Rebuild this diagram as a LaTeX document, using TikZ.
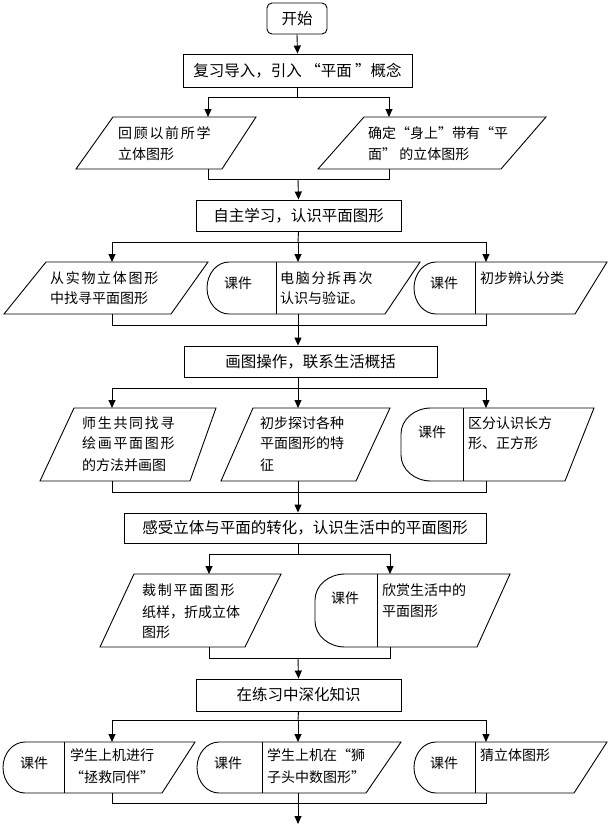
\documentclass[tikz,border=0pt]{standalone}
\usepackage{fontspec}
\setmainfont{Noto Sans CJK SC}
\usetikzlibrary{arrows.meta}
\tikzset{
  line/.style={draw=black, line width=0.9pt},
  arr/.style={line, -{Triangle[length=8pt,width=7pt]}},
  procbox/.style={line, rectangle, inner sep=0pt, font=\fontsize{15.5}{18}\selectfont},
  startbox/.style={procbox, rounded corners=5pt},
  txt/.style={anchor=base west, inner sep=0pt, font=\fontsize{14}{18}\selectfont},
  sp/.style={font=\fontsize{14}{18}\selectfont\addfontfeature{LetterSpace=12}},
  kj/.style={anchor=center, inner sep=0pt, font=\fontsize{14}{18}\selectfont},
}
% D-shaped courseware box: left x, divider x, top-right x, bottom-right x, top y, bottom y, x radius, y radius
\newcommand\kjshape[8]{%
  \draw[line] (#2,#5) -- (#3,#5) -- (#4,#6) -- ({#1+#7},#6)
    arc[start angle=270,end angle=180,x radius=#7pt,y radius=#8pt]
    -- (#1,{#5+#8})
    arc[start angle=180,end angle=90,x radius=#7pt,y radius=#8pt] -- cycle;
  \draw[line] (#2,#5) -- (#2,#6);}
\begin{document}
\begin{tikzpicture}[x=1pt,y=-1pt]
\useasboundingbox (0,0) rectangle (608,827);
\fill[white] (0,0) rectangle (608,827);

% ---------- start and first box
\node[startbox, minimum width=60pt, minimum height=31pt] (start) at (297,18.5) {开始};
\node[procbox, minimum width=229pt, minimum height=33pt] (b1) at (297.5,70.5) {复习导入，引入 “平面 ”概念};
\draw[arr] (start.south) -- (b1.north);

% ---------- row 1
\draw[line] (113,117) -- (256,117) -- (222,169) -- (76,169) -- cycle;
\draw[line] (364,117) -- (546,117) -- (501,169) -- (318,169) -- cycle;
\node[txt,sp] (t11) at (118,138.3) {回顾以前所学};
\node[txt] (t12) at (118,159.3) {立体图形};
\node[txt] (t21) at (368,138.3) {确定“身上”带有“平};
\node[txt] (t22) at (368,159.3) {面” 的立体图形};
\coordinate (j1) at (297.5,97);
\coordinate (p1t) at (208,117); \coordinate (p2t) at (389,117);
\coordinate (p1b) at (208,169); \coordinate (p2b) at (389,169);
\coordinate (m1) at (298,179);
\draw[line] (b1.south) -- (j1);
\draw[arr] (j1) -| (p1t);
\draw[arr] (j1) -| (p2t);
\draw[line] (p1b) |- (m1);
\draw[line] (p2b) |- (m1);

\node[procbox, minimum width=205pt, minimum height=31pt] (b2) at (298.5,215.5) {自主学习，认识平面图形};
\draw[arr] (m1) -- (b2.north);

% ---------- row 3
\draw[line] (46,262) -- (208,262) -- (171,314) -- (4,314) -- cycle;
\kjshape{207}{276}{420}{385}{262}{314}{22}{26}
\kjshape{414}{475}{607}{575}{262}{314}{22}{26}
\node[txt,sp] (t31) at (50,283.3) {从实物立体图形};
\node[txt] (t32) at (50,303.3) {中找寻平面图形};
\node[kj] (k3a) at (238,283) {课件};
\node[txt,sp] (t33) at (280,283.3) {电脑分拆再次};
\node[txt] (t34) at (280,303.3) {认识与验证。};
\node[kj] (k3b) at (444,283) {课件};
\node[txt] (t35) at (480,283.3) {初步辨认分类};
\coordinate (j2) at (298,242);
\coordinate (q1t) at (112,262); \coordinate (q2t) at (298,262); \coordinate (q3t) at (486,262);
\coordinate (q1b) at (112,314); \coordinate (q2b) at (298,314); \coordinate (q3b) at (486,314);
\coordinate (m2) at (298,325);
\draw[line] (b2.south) -- (j2);
\draw[arr] (j2) -| (q1t);
\draw[arr] (j2) -- (q2t);
\draw[arr] (j2) -| (q3t);
\draw[line] (q1b) |- (m2);
\draw[line] (q3b) |- (m2);
\draw[line] (q2b) -- (m2);

\node[procbox, minimum width=253pt, minimum height=31pt] (b3) at (310.5,361.5) {画图操作，联系生活概括};
\draw[arr] (m2) -- (m2 |- b3.north);

% ---------- row 4
\draw[line] (74,408) -- (216,408) -- (190,481) -- (40,481) -- cycle;
\draw[line] (253,408) -- (390,408) -- (356,481) -- (221,481) -- cycle;
\kjshape{401}{463}{594}{565}{408}{481}{30}{26}
\node[txt,sp] (t41) at (82,428.3) {师生共同找寻};
\node[txt,sp] (t42) at (82,448.3) {绘画平面图形};
\node[txt] (t43) at (82,470.3) {的方法并画图};
\node[txt] (t44) at (260,428.3) {初步探讨各种};
\node[txt] (t45) at (260,448.3) {平面图形的特};
\node[txt] (t46) at (260,470.3) {征};
\node[kj] (k4) at (432,432) {课件};
\node[txt] (t47) at (468,428.3) {区分认识长方};
\node[txt] (t48) at (468,448.3) {形、正方形};
\coordinate (j3) at (298,388);
\coordinate (r1t) at (112,408); \coordinate (r2t) at (298,408); \coordinate (r3t) at (486,408);
\coordinate (r1b) at (112,481); \coordinate (r2b) at (298,481); \coordinate (r3b) at (486,481);
\coordinate (m3) at (298,492);
\draw[line] (j3 |- b3.south) -- (j3);
\draw[arr] (j3) -| (r1t);
\draw[arr] (j3) -- (r2t);
\draw[arr] (j3) -| (r3t);
\draw[line] (r1b) |- (m3);
\draw[line] (r3b) |- (m3);
\draw[line] (r2b) -- (m3);

\node[procbox, minimum width=362pt, minimum height=30pt] (b4) at (305,528) {感受立体与平面的转化，认识生活中的平面图形};
\draw[arr] (m3) -- (m3 |- b4.north);

% ---------- row 5
\draw[line] (134,574) -- (281,574) -- (245,647) -- (100,647) -- cycle;
\kjshape{315}{377}{510}{477}{574}{647}{30}{26}
\node[txt,sp] (t51) at (142,595.3) {裁制平面图形};
\node[txt] (t52) at (142,617.3) {纸样，折成立体};
\node[txt] (t53) at (142,637.3) {图形};
\node[kj] (k5) at (345,598) {课件};
\node[txt] (t54) at (382,595.3) {欣赏生活中的};
\node[txt] (t55) at (382,616.3) {平面图形};
\coordinate (j4) at (298,554);
\coordinate (s1t) at (209,574); \coordinate (s2t) at (390,574);
\coordinate (s1b) at (209,647); \coordinate (s2b) at (390,647);
\coordinate (m4) at (298,658);
\draw[line] (j4 |- b4.south) -- (j4);
\draw[arr] (j4) -| (s1t);
\draw[arr] (j4) -| (s2t);
\draw[line] (s1b) |- (m4);
\draw[line] (s2b) |- (m4);

\node[procbox, minimum width=205pt, minimum height=32pt] (b5) at (298.5,695) {在练习中深化知识};
\draw[arr] (m4) -- (b5.north);

% ---------- row 6
\kjshape{3}{64}{195}{162}{742}{793}{22}{25.5}
\kjshape{197}{262}{401}{366}{742}{793}{22}{25.5}
\kjshape{414}{475}{607}{574}{742}{793}{22}{25.5}
\node[kj] (k6a) at (34,763) {课件};
\node[txt] (t61) at (70,760.3) {学生上机进行};
\node[txt] (t62) at (70,782.3) {“拯救同伴”};
\node[kj] (k6b) at (228,763) {课件};
\node[txt] (t63) at (267,760.3) {学生上机在“狮};
\node[txt] (t64) at (267,782.3) {子头中数图形”};
\node[kj] (k6c) at (444,763) {课件};
\node[txt] (t65) at (480,760.3) {猜立体图形};
\coordinate (j5) at (298,720);
\coordinate (u1t) at (112,742); \coordinate (u2t) at (298,742); \coordinate (u3t) at (486,742);
\coordinate (u1b) at (112,793); \coordinate (u2b) at (298,793); \coordinate (u3b) at (486,793);
\coordinate (m5) at (298,803);
\coordinate (endpt) at (298,824);
\draw[line] (b5.south) -- (j5);
\draw[arr] (j5) -| (u1t);
\draw[arr] (j5) -- (u2t);
\draw[arr] (j5) -| (u3t);
\draw[line] (u1b) |- (m5);
\draw[line] (u3b) |- (m5);
\draw[line] (u2b) -- (m5);
\draw[arr] (m5) -- (endpt);
\end{tikzpicture}
\end{document}
